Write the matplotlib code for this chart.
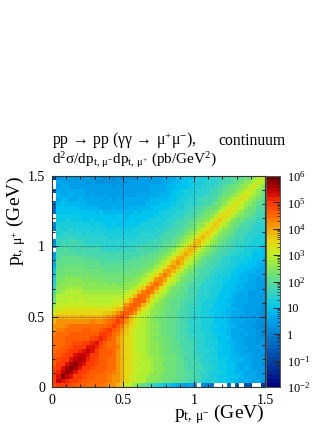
import numpy as np
import matplotlib
matplotlib.use("Agg")
import matplotlib.pyplot as plt
from matplotlib.colors import LinearSegmentedColormap, Normalize

plt.rcParams['font.family'] = ['Liberation Serif', 'DejaVu Serif']
plt.rcParams['mathtext.fontset'] = 'custom'
plt.rcParams['mathtext.rm'] = 'Liberation Serif'
plt.rcParams['mathtext.it'] = 'Liberation Serif'
plt.rcParams['mathtext.bf'] = 'Liberation Serif'
plt.rcParams['mathtext.default'] = 'rm'

# Log10(value) x 10 per 0.03 GeV bin.
# Row i is the p_t(mu+) bin i and runs from the diagonal to the last p_t(mu-) bin.
LOG10_X10 = [
 [48,50,50,49,48,47,46,46,45,45,44,44,43,42,41,39,36,31,28,25,23,20,19,16,15,12,10,11,8,7,6,4,6,3,1,2,0,-1,1,-2,-1,-4,-5,-3,-6,-8,-6,-10,-9,-12],
 [54,53,51,50,49,48,47,46,45,45,44,44,43,42,41,38,35,32,30,28,28,26,26,24,24,22,23,21,20,19,19,17,16,16,14,13,14,12,11,11,9,10,8,7,8,6,5,6,3],
 [57,55,52,50,49,48,47,46,45,45,44,43,42,41,38,35,32,30,29,28,27,26,25,24,23,23,22,21,20,19,19,17,17,15,15,13,13,11,11,10,9,10,8,7,6,7,5,4],
 [58,56,52,50,49,48,47,46,46,45,44,43,41,38,35,33,31,29,29,28,27,25,25,24,23,22,21,21,19,19,18,16,16,14,13,13,12,11,10,10,8,8,7,7,6,5,4],
 [58,56,52,50,49,48,47,47,46,45,44,41,38,35,33,31,30,29,28,27,26,25,24,23,22,21,20,19,18,18,17,16,14,14,13,11,11,10,9,8,7,8,6,5,4,5],
 [57,55,52,50,49,48,47,46,45,44,42,38,35,33,31,29,29,28,27,26,25,23,23,22,21,20,19,18,17,17,15,14,13,13,11,11,9,9,8,7,7,6,5,5,3],
 [56,54,51,49,48,47,47,45,45,42,39,35,33,31,30,29,28,27,25,25,24,23,22,21,20,18,18,17,16,15,15,13,12,11,11,9,8,8,8,6,6,5,4,5],
 [55,53,50,49,47,47,46,44,42,39,35,33,31,30,28,27,26,25,24,23,22,22,20,19,19,17,16,16,14,13,13,12,10,10,9,8,8,6,6,6,4,4,3],
 [54,52,49,47,46,46,45,42,39,35,33,31,29,28,27,26,25,24,24,22,21,20,19,18,17,16,15,15,14,12,12,10,10,9,8,7,7,5,5,5,3,4],
 [53,51,48,46,45,44,43,39,35,33,31,29,28,27,26,25,24,23,22,21,20,19,18,17,16,15,14,13,13,11,11,9,9,8,7,6,6,5,4,4,3],
 [52,50,47,45,44,42,39,35,33,31,29,28,27,26,25,24,22,22,21,20,18,18,17,16,15,14,13,12,12,10,10,8,8,7,6,5,5,4,3,4],
 [51,49,46,44,42,39,35,33,31,29,28,27,26,24,24,23,22,20,19,19,17,16,16,14,14,13,12,11,10,9,9,7,7,6,5,5,4,3,3],
 [50,48,45,43,40,36,33,31,29,28,27,25,25,23,22,21,21,19,18,17,16,15,14,14,12,12,11,9,9,8,7,7,5,6,4,4,3,2],
 [50,47,44,41,37,34,31,29,28,27,26,24,23,23,21,20,19,18,18,15,15,14,13,13,11,10,10,9,8,7,6,6,5,4,4,3,3],
 [49,47,43,38,35,32,30,28,27,25,25,23,22,21,20,19,18,17,16,15,14,13,12,11,11,9,9,8,8,6,5,5,5,3,3,2],
 [49,46,41,36,33,30,29,27,26,24,23,22,21,20,19,18,17,15,15,14,13,12,12,10,10,9,8,7,6,6,5,4,4,3,3],
 [48,45,39,34,31,29,27,25,24,23,22,21,20,19,18,17,16,15,14,13,12,11,10,9,9,8,7,6,5,5,4,3,4,2],
 [47,45,41,35,31,28,26,25,24,22,21,20,19,18,17,16,14,14,13,12,11,10,10,8,8,7,6,6,5,4,4,3,3],
 [47,45,40,34,30,27,25,24,23,22,20,20,18,17,16,15,14,13,12,11,11,9,9,8,8,6,6,5,5,4,4,3],
 [46,44,39,33,29,26,25,23,22,21,20,19,18,16,16,15,13,13,12,10,10,9,9,7,7,6,5,5,4,4,3],
 [46,44,38,32,28,26,24,23,21,21,19,18,17,16,15,14,13,12,11,10,10,8,8,7,6,6,5,5,4,4],
 [45,43,37,31,28,25,24,22,21,20,19,17,17,15,14,14,12,12,10,10,9,8,7,7,6,5,5,4,5],
 [45,43,36,31,28,25,23,22,21,19,18,17,16,15,14,13,12,11,10,10,8,8,7,7,5,5,5,4],
 [44,42,35,30,27,24,23,21,20,18,18,16,15,15,13,12,12,10,10,9,8,8,6,6,6,5,4],
 [44,41,35,30,27,24,22,21,19,18,17,15,15,14,12,12,11,10,10,8,8,7,7,6,5,5],
 [43,40,34,30,27,24,22,20,19,18,17,15,15,13,13,11,11,9,9,8,8,6,7,5,5],
 [43,40,34,29,26,24,21,20,19,17,17,15,14,13,12,12,10,10,8,8,7,7,6,6],
 [42,39,33,29,26,24,21,19,18,17,16,15,14,13,12,11,10,10,8,8,8,7,6],
 [42,39,33,28,26,23,21,19,18,17,16,15,14,13,12,11,10,10,9,8,8,7],
 [41,38,32,28,25,23,21,19,18,17,16,15,14,13,12,11,11,9,9,8,8],
 [40,37,32,28,25,23,20,19,18,17,15,15,13,13,12,11,11,10,9,8],
 [40,37,31,27,25,23,20,19,18,17,16,15,14,13,12,12,10,10,9],
 [39,36,31,27,25,23,20,19,18,16,16,15,14,13,13,11,11,10],
 [39,36,30,27,24,23,20,19,18,17,15,15,14,13,12,12,11],
 [38,35,30,27,25,23,20,19,18,16,16,15,14,13,12,12],
 [38,35,30,26,24,22,20,19,18,17,15,15,14,13,12],
 [37,34,30,26,24,22,20,18,18,16,15,15,14,13],
 [37,34,29,26,24,22,19,18,17,17,15,15,14],
 [36,33,29,26,23,22,19,18,18,16,15,15],
 [36,33,29,26,23,22,19,19,18,16,16],
 [35,32,28,26,24,22,20,19,18,17],
 [35,32,28,25,23,22,20,18,18],
 [34,31,28,25,23,22,19,19],
 [34,31,27,25,23,21,19],
 [33,30,27,25,23,21],
 [33,30,27,25,22],
 [32,29,26,23],
 [32,29,26],
 [31,28],
 [30],
]
EMPTY_LEFT_BINS = [32, 35, 36, 39, 40, 44, 45, 47, 48]
EMPTY_BOTTOM_BINS = [34, 38, 39, 40, 42, 44, 47, 48]
BIN_WIDTH = 0.03
PT_MAX = 1.5
X_TICKS = [0, 0.5, 1, 1.5]
X_TICK_LABELS = ['0', '0.5', '1', '1.5']
CB_DECADES = [-2, -1, 0, 1, 2, 3, 4, 5, 6]
CB_LABELS = ['$10^{-2}$', '$10^{-1}$', '1', '10', '$10^{2}$', '$10^{3}$', '$10^{4}$', '$10^{5}$', '$10^{6}$']

n = len(LOG10_X10)
Z = np.zeros((n, n))
for i, row in enumerate(LOG10_X10):
    Z[i, i:] = np.array(row) / 10.0
    Z[i:, i] = np.array(row) / 10.0
for b in EMPTY_LEFT_BINS:
    Z[b, 0] = np.nan
for b in EMPTY_BOTTOM_BINS:
    Z[0, b] = np.nan
edges = np.arange(n + 1) * BIN_WIDTH

palette = [(0, 0, 130), (0, 40, 150), (0, 70, 165), (0, 100, 190), (0, 130, 210), (0, 160, 235),
           (0, 200, 240), (50, 210, 200), (90, 220, 150), (130, 230, 90), (190, 240, 40),
           (230, 220, 20), (240, 170, 10), (255, 110, 0), (255, 60, 0), (200, 0, 0), (110, 0, 0)]
cmap = LinearSegmentedColormap.from_list('root', [tuple(c / 255 for c in p) for p in palette], N=50)
cmap.set_bad('white')
norm = Normalize(CB_DECADES[0], CB_DECADES[-1])

W, H = 332, 430
fig = plt.figure(figsize=(W / 100, H / 100), dpi=100)
ax = fig.add_axes([52 / W, 1 - 387 / H, 213 / W, 211 / H])
mesh = ax.pcolormesh(edges, edges, np.ma.masked_invalid(Z), cmap=cmap, norm=norm, shading='flat', antialiased=False)
ax.set_xlim(0, PT_MAX)
ax.set_ylim(0, PT_MAX)
ax.set_xticks(X_TICKS, X_TICK_LABELS)
ax.set_yticks(X_TICKS, X_TICK_LABELS)
ax.set_xticks(np.arange(0, 1.51, 0.1), minor=True)
ax.set_yticks(np.arange(0, 1.51, 0.1), minor=True)
ax.tick_params(which='major', direction='in', top=True, right=True, length=4.5, width=0.7, labelsize=10, pad=5, color='#222222')
ax.tick_params(which='minor', direction='in', top=True, right=True, length=2.5, width=0.7, color='#222222')
for v in (0.5, 1.0):
    ax.axhline(v, color='black', lw=0.6, ls=(0, (1.5, 1.5)), alpha=0.55, zorder=3)
    ax.axvline(v, color='black', lw=0.6, ls=(0, (1.5, 1.5)), alpha=0.55, zorder=3)
for s in ax.spines.values():
    s.set_linewidth(0.8)
    s.set_color('#333333')

cax = fig.add_axes([266 / W, 1 - 387 / H, 14 / W, 211 / H])
cb = fig.colorbar(mesh, cax=cax)
cb.set_ticks(CB_DECADES, labels=CB_LABELS)
minor = [d + np.log10(m) for d in CB_DECADES[:-1] for m in range(2, 10)]
cax.set_yticks(minor, minor=True)
cax.tick_params(which='major', direction='in', right=True, length=5, width=0.7, labelsize=9, pad=5, color='#222222')
cax.tick_params(which='minor', direction='in', right=True, length=2.5, width=0.5, color='#222222')
cb.outline.set_linewidth(0.7)
cb.outline.set_edgecolor('#555555')

fig.text(52 / W, 1 - 145 / H, r'pp$\,\rightarrow\,$pp ($\gamma\gamma$$\,\rightarrow\,$$\mu^{+}\mu^{-}$),', fontsize=11.3)
fig.text(218 / W, 1 - 145 / H, 'continuum', fontsize=11.3)
fig.text(52 / W, 1 - 164 / H, r'd$^{2}\sigma$/dp$_{t,\,\mu^{-}}$dp$_{t,\,\mu^{+}}$ (pb/GeV$^{2}$)', fontsize=11)
fig.text(265 / W, 1 - 418 / H, r'p$_{t,\,\mu^{-}}$ (GeV)', fontsize=14, ha='right')
fig.text(20 / W, 1 - 175 / H, r'p$_{t,\,\mu^{+}}$ (GeV)', fontsize=14, ha='right', va='baseline', rotation=90, rotation_mode='anchor')

fig.savefig('out.png', dpi=100)
